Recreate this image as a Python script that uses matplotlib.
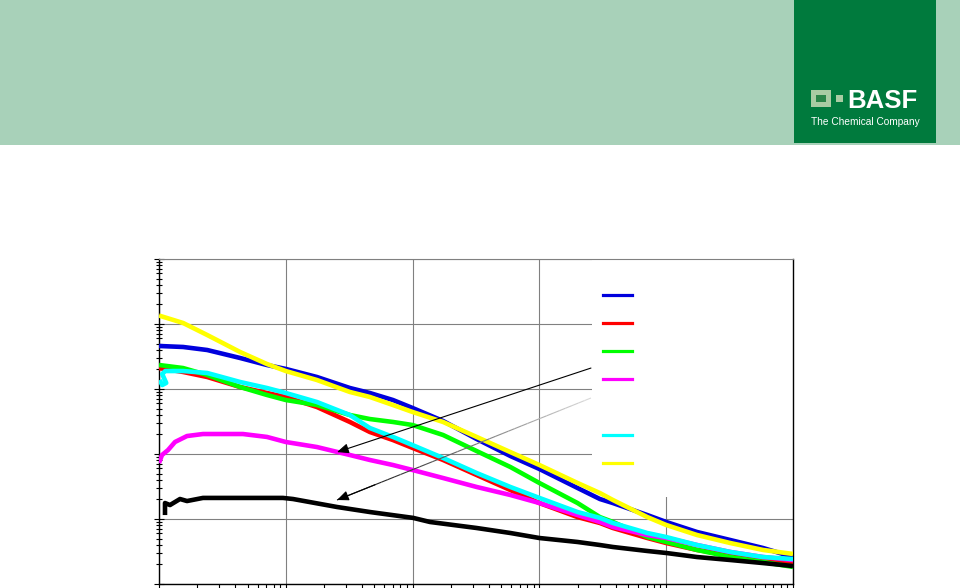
import matplotlib
matplotlib.use("Agg")
import matplotlib.pyplot as plt
from matplotlib.patches import Rectangle
from matplotlib.lines import Line2D
from matplotlib.collections import LineCollection
import numpy as np

# ---- data (log-log axes, no visible labels) ----
x_main = [0.0155, 0.024, 0.0436, 0.071, 0.1, 0.176, 0.32, 0.46, 0.70, 1.0, 1.74,
          3.2, 5.9, 10, 20, 30, 38, 71, 100, 175, 320, 580, 1000]

x_first = [0.01] + x_main

blue_y = [4590, 4430, 3980, 3000, 2340, 2035, 1530, 1036, 868, 677, 510, 322,
          170, 93.2, 58.8, 30, 20.3, 17.6, 11.5, 9.0, 6.31, 4.75, 3.58, 2.6]
red_y = [2100, 1827, 1530, 1073, 868, 754, 528, 311, 218, 164, 124, 80.9,
         47.5, 27.9, 17.6, 10.7, 8.68, 7.27, 5.1, 4.27, 3.34, 2.79, 2.34, 2.10]
green_y = [2340, 2100, 1642, 1073, 809, 677, 567, 398, 345, 311, 279, 196,
           111, 63.1, 35.8, 17.6, 10.7, 9.0, 5.28, 4.43, 3.34, 2.6, 2.18, 1.83]
yellow_y = [13500, 10360, 6770, 3710, 2425, 1890, 1375, 900, 754, 567, 443, 311,
            183, 107, 67.7, 35.8, 25.1, 19.6, 10.7, 8.09, 5.67, 4.27, 3.34, 2.9]

cyan_x = [0.0101, 0.0106, 0.0114, 0.0106, 0.0112] + x_main
cyan_y = [1375, 1150, 1240, 1700, 1890,
          1890, 1763, 1282, 1036, 868, 631, 398, 251, 183, 137, 86.8,
          51, 31.1, 21.1, 12.8, 10.4, 8.68, 6.09, 5.28, 3.98, 3.11, 2.6, 2.42]

magenta_x = [0.01, 0.01056, 0.01178, 0.01337, 0.01663, 0.02223, 0.03437, 0.0459,
             0.071, 0.1, 0.176, 0.32, 0.46, 0.70, 1.0, 1.74, 3.2, 5.9, 10, 20,
             30, 38, 71, 100, 175, 320, 580, 1000]
magenta_y = [72.7, 96.5, 115, 153, 189, 203, 203, 203,
             183, 153, 128, 96.5, 80.9, 67.7, 56.7, 42.7, 31.1, 23.4, 17.6, 11.5,
             9.0, 7.54, 5.67, 5.1, 3.98, 3.11, 2.6, 2.34]

black_x = [0.01115, 0.01115, 0.01221, 0.01464, 0.01663, 0.02223, 0.095, 0.114,
           0.2535, 0.461, 1.01, 1.37, 3.2, 5.9, 10, 20, 30, 38, 71, 100, 175,
           320, 580, 1000]
black_y = [11.5, 17.6, 16.4, 20.3, 18.9, 21.1, 21.1, 20.3,
           15.3, 12.8, 10.4, 9.0, 7.27, 6.09, 5.1, 4.43, 3.98, 3.71, 3.22, 3.0,
           2.6, 2.34, 2.10, 1.89]

# annotation arrows (start -> tip), data coordinates
arrow1_start, arrow1_end = (25.5, 2100), (0.2535, 107)
arrow2_start, arrow2_end = (25.5, 727), (0.2535, 19.6)

x_lim = (0.01, 1000)
y_lim = (1, 1e5)

# ---- figure ----
W, H = 960, 588
fig = plt.figure(figsize=(W / 100, H / 100), dpi=100)
fig.patch.set_facecolor("white")

# header band + logo
fig.patches.append(Rectangle((0, (H - 145) / H), 1, 145 / H, transform=fig.transFigure,
                             facecolor="#a8d1b9", edgecolor="none", zorder=0))
fig.patches.append(Rectangle((794 / W, (H - 143) / H), 142 / W, 143 / H,
                             transform=fig.transFigure, facecolor="#007a3d",
                             edgecolor="none", zorder=1))
fig.patches.append(Rectangle((811 / W, (H - 107) / H), 20 / W, 17 / H,
                             transform=fig.transFigure, facecolor="#a9cca3",
                             edgecolor="none", zorder=2))
fig.patches.append(Rectangle((816 / W, (H - 102) / H), 10 / W, 7 / H,
                             transform=fig.transFigure, facecolor="#2a8548",
                             edgecolor="none", zorder=3))
fig.patches.append(Rectangle((836 / W, (H - 102) / H), 7 / W, 7 / H,
                             transform=fig.transFigure, facecolor="#a9cca3",
                             edgecolor="none", zorder=2))
fig.text(847 / W, (H - 108) / H, "BASF", color="white", fontsize=18.5,
         fontweight="bold", family="Liberation Sans", ha="left", va="baseline")
fig.text(811 / W, (H - 125) / H, "The Chemical Company", color="white",
         fontsize=7.3, family="Liberation Sans", ha="left", va="baseline")

# axes
ax = fig.add_axes([159 / W, (H - 584) / H, 634 / W, 325 / H])
ax.set_xscale("log")
ax.set_yscale("log")
ax.set_xlim(*x_lim)
ax.set_ylim(*y_lim)
ax.set_axisbelow(True)
ax.grid(True, which="major", color="#808080", lw=0.8)
ax.grid(False, which="minor")

ax.tick_params(axis="y", which="major", direction="inout", length=7, width=0.8,
               labelleft=False, colors="black")
ax.tick_params(axis="y", which="minor", direction="inout", length=4, width=0.8,
               labelleft=False)
ax.tick_params(axis="x", which="major", direction="out", length=5, width=0.8,
               labelbottom=False)
ax.tick_params(axis="x", which="minor", direction="out", length=3, width=0.8,
               labelbottom=False)
ax.xaxis.set_minor_locator(matplotlib.ticker.LogLocator(base=10, subs=np.arange(2, 10), numticks=50))
ax.yaxis.set_minor_locator(matplotlib.ticker.LogLocator(base=10, subs=np.arange(2, 10), numticks=50))
ax.xaxis.set_minor_formatter(matplotlib.ticker.NullFormatter())
ax.yaxis.set_minor_formatter(matplotlib.ticker.NullFormatter())

for s in ["left", "bottom", "right"]:
    ax.spines[s].set_color("black")
    ax.spines[s].set_linewidth(1.0)
ax.spines["top"].set_color("#808080")
ax.spines["top"].set_linewidth(0.8)

# white legend area covering grid
ax.add_patch(Rectangle(((592 - 159) / 634, (584 - 497) / 325), 1 - (592 - 159) / 634,
                       1 - (584 - 497) / 325, transform=ax.transAxes,
                       facecolor="white", edgecolor="none", zorder=1))

lw = 3.3
ax.plot(x_first, blue_y, color="#0000dd", lw=lw, zorder=3, solid_capstyle="butt")
ax.plot(x_first, red_y, color="#ff0000", lw=lw, zorder=3, solid_capstyle="butt")
ax.plot(x_first, green_y, color="#00ff00", lw=lw, zorder=3, solid_capstyle="butt")
ax.plot(magenta_x, magenta_y, color="#ff00ff", lw=lw, zorder=3, solid_capstyle="butt")
ax.plot(black_x, black_y, color="black", lw=lw, zorder=3, solid_capstyle="butt")
ax.plot(cyan_x, cyan_y, color="#00ffff", lw=lw, zorder=3.1, solid_capstyle="butt")
ax.plot(x_first, yellow_y, color="#ffff00", lw=lw, zorder=3.2, solid_capstyle="butt")

# arrows
ax.annotate("", xy=arrow1_end, xytext=arrow1_start,
            arrowprops=dict(arrowstyle="-|>,head_length=0.7,head_width=0.3",
                            color="black", lw=0.8, shrinkA=0, shrinkB=0), zorder=4)
# second arrow: line fading from black to light grey
n = 40
lx = np.logspace(np.log10(arrow2_end[0]), np.log10(arrow2_start[0]), n + 1)
ly = np.logspace(np.log10(arrow2_end[1]), np.log10(arrow2_start[1]), n + 1)
segs = [[(lx[i], ly[i]), (lx[i + 1], ly[i + 1])] for i in range(n)]
cols = [(g, g, g) for g in np.linspace(0.0, 0.85, n)]
ax.add_collection(LineCollection(segs, colors=cols, linewidths=0.8, zorder=4))
ax.annotate("", xy=arrow2_end, xytext=(lx[6], ly[6]),
            arrowprops=dict(arrowstyle="-|>,head_length=0.7,head_width=0.3",
                            color="black", lw=0.8, shrinkA=0, shrinkB=0), zorder=4)

# legend (text not visible in reference)
handles = [Line2D([], [], color=c, lw=2.3) for c in
           ["#0000dd", "#ff0000", "#00ff00", "#ff00ff"]]
handles.append(Line2D([], [], color="none", lw=0))
handles += [Line2D([], [], color=c, lw=2.3) for c in ["#00ffff", "#ffff00"]]
labels = [""] * 7
leg = ax.legend(handles, labels, loc="upper left",
                bbox_to_anchor=((603 - 159) / 634, (584 - 289) / 325),
                frameon=False, fontsize=10, handlelength=2.09, borderpad=0,
                borderaxespad=0, labelspacing=1.01, handletextpad=0.5)
leg.set_zorder(5)

fig.savefig("out.png", dpi=100)
